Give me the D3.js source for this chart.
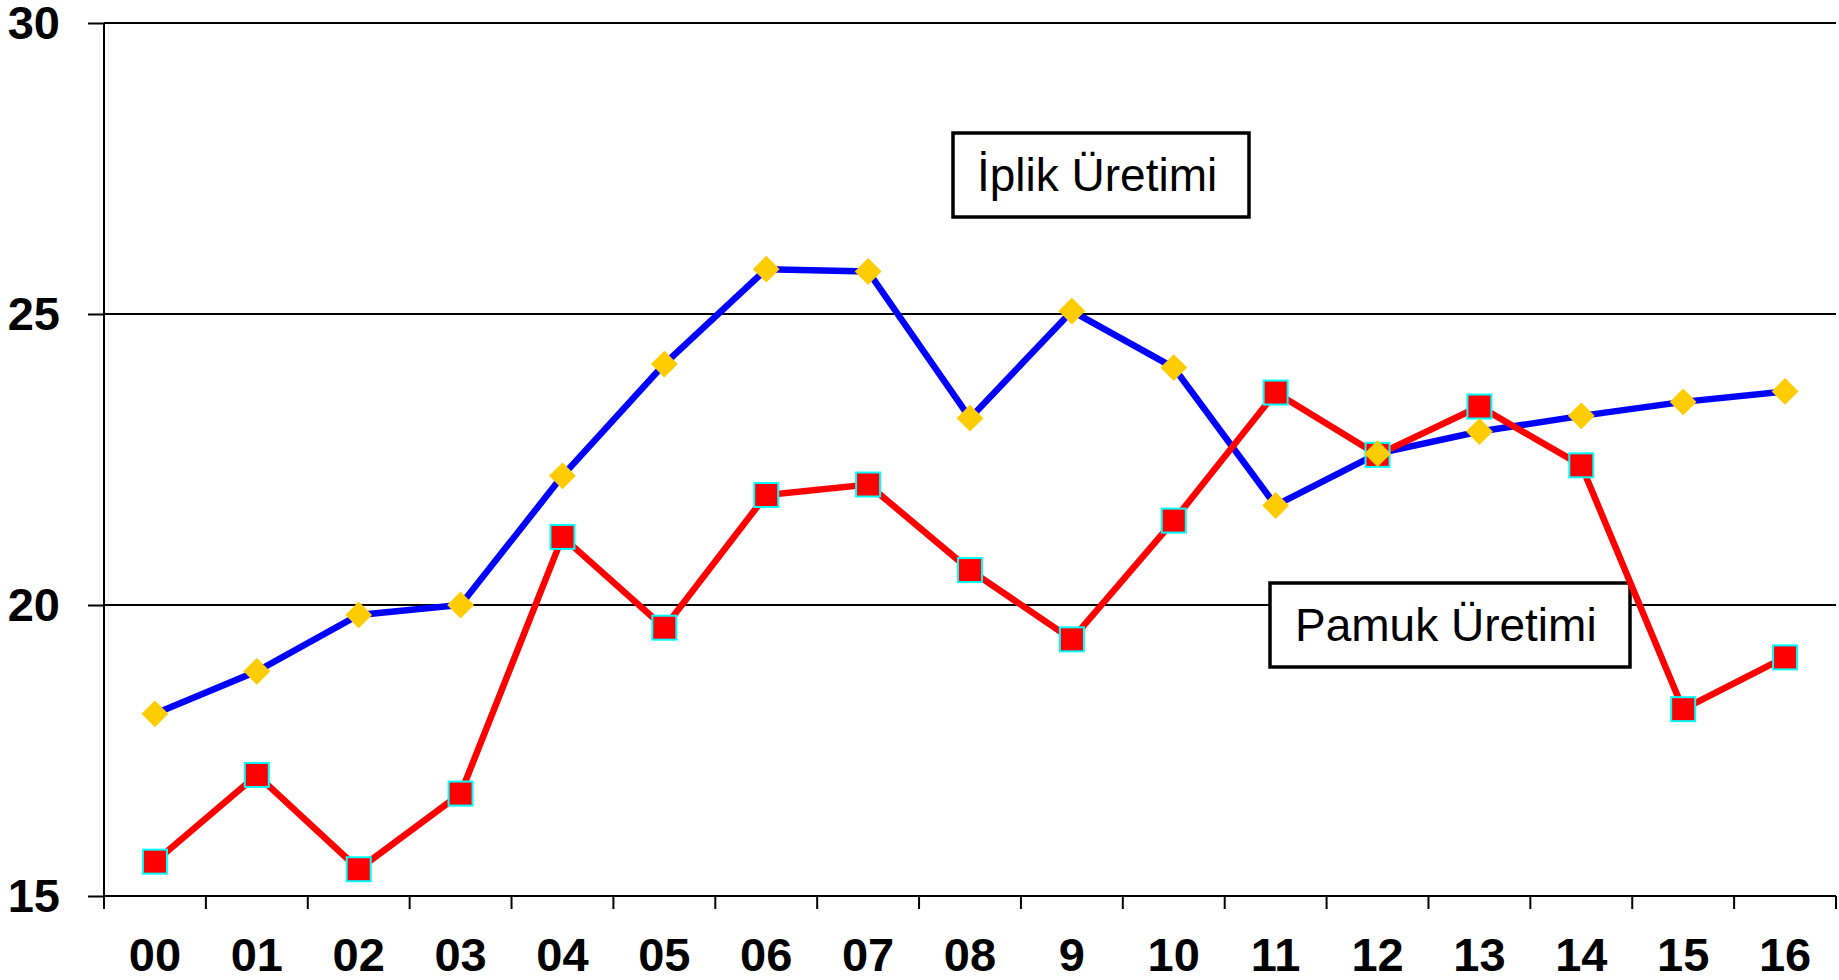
<!DOCTYPE html>
<html>
  <head>
    <meta charset="utf-8">
    <title>Pamuk ve İplik Üretimi</title>
    <style>
      body { margin: 0; background: #fff; }
      svg { display: block; font-family: "Liberation Sans", Arial, sans-serif; }
      .axis text { font-weight: bold; font-size: 47px; fill: #000; }
      .axis path, .axis line { stroke: #000; stroke-width: 2px; }
      .grid line { stroke: #000; stroke-width: 2px; }
      .note rect { fill: #fff; stroke: #000; stroke-width: 3.5px; }
      .note text { font-size: 46px; fill: #000; }
    </style>
    <script src="https://cdn.jsdelivr.net/npm/d3@7"></script>
  </head>
  <body>
    <svg id="chart" width="1839" height="980"></svg>
    <script>
      // years on the x axis
      var years = ["00", "01", "02", "03", "04", "05", "06", "07", "08", "9",
                   "10", "11", "12", "13", "14", "15", "16"];
      // İplik Üretimi (blue line, yellow diamonds)
      var iplik = [18.13, 18.86, 19.83, 20.0, 22.22, 24.14, 25.77, 25.73, 23.21, 25.05,
                   24.08, 21.71, 22.60, 22.98, 23.25, 23.49, 23.67];
      // Pamuk Üretimi (red line, red squares)
      var pamuk = [15.59, 17.08, 15.46, 16.76, 21.17, 19.61, 21.89, 22.07, 20.60, 19.41,
                   21.45, 23.65, 22.58, 23.41, 22.40, 18.21, 19.10];
      var yTicks = [15, 20, 25, 30];

      var plotLeft = 104, plotRight = 1836, plotTop = 23, plotBottom = 896;
      var svg = d3.select("#chart");

      var x = d3.scaleBand().domain(years).range([plotLeft, plotRight]);
      var y = d3.scaleLinear().domain([15, 30]).range([plotBottom, plotTop]);

      // horizontal grid lines
      svg.append("g").attr("class", "grid")
         .selectAll("line").data(yTicks.slice(1)).enter()
         .append("line")
         .attr("x1", plotLeft).attr("x2", plotRight)
         .attr("y1", function(d) { return y(d); })
         .attr("y2", function(d) { return y(d); });

      // y axis
      var yAxis = svg.append("g").attr("class", "axis")
         .attr("transform", "translate(" + plotLeft + ",0)")
         .call(d3.axisLeft(y).tickValues(yTicks).tickSize(16).tickPadding(28));
      yAxis.select(".domain").attr("d", "M0," + plotTop + "V" + plotBottom);

      // x axis: labels centred in bands, ticks on the band edges
      var xAxis = svg.append("g").attr("class", "axis")
         .attr("transform", "translate(0," + plotBottom + ")")
         .call(d3.axisBottom(x).tickSize(0).tickPadding(42));
      xAxis.select(".domain").attr("d", "M" + plotLeft + ",0H" + plotRight);
      xAxis.selectAll(".tick text").attr("dy", "0.71em");
      var edges = years.map(function(d) { return x(d); }).concat([plotRight]);
      xAxis.selectAll("line.edge").data(edges).enter()
         .append("line").attr("class", "edge")
         .attr("x1", function(d) { return d; }).attr("x2", function(d) { return d; })
         .attr("y1", 0).attr("y2", 13);

      // text boxes
      function note(x0, y0, w, h, label, tx, ty) {
        var g = svg.append("g").attr("class", "note");
        g.append("rect").attr("x", x0).attr("y", y0).attr("width", w).attr("height", h);
        g.append("text").attr("x", tx).attr("y", ty).text(label);
      }
      note(953, 133, 296, 84, "İplik Üretimi", 977, 191);
      note(1270, 583, 360, 84, "Pamuk Üretimi", 1295, 641);

      var cx = function(d, i) { return x(years[i]) + x.bandwidth() / 2; };
      var line = d3.line().x(cx).y(function(d) { return y(d); });

      svg.append("path").datum(iplik)
         .attr("d", line).attr("fill", "none")
         .attr("stroke", "#0000ff").attr("stroke-width", 6.5);
      svg.append("path").datum(pamuk)
         .attr("d", line).attr("fill", "none")
         .attr("stroke", "#ff0000").attr("stroke-width", 6.5);

      svg.selectAll("rect.sq").data(pamuk).enter()
         .append("rect").attr("class", "sq")
         .attr("x", function(d, i) { return cx(d, i) - 12; })
         .attr("y", function(d) { return y(d) - 12; })
         .attr("width", 24).attr("height", 24)
         .attr("fill", "#ff0000").attr("stroke", "#00ffff").attr("stroke-width", 2);

      var diamond = d3.symbol().type(d3.symbolSquare).size(360);
      svg.selectAll("path.dm").data(iplik).enter()
         .append("path").attr("class", "dm")
         .attr("d", diamond)
         .attr("transform", function(d, i) {
           return "translate(" + cx(d, i) + "," + y(d) + ") rotate(45)";
         })
         .attr("fill", "#ffcc00");
    </script>
  </body>
</html>
